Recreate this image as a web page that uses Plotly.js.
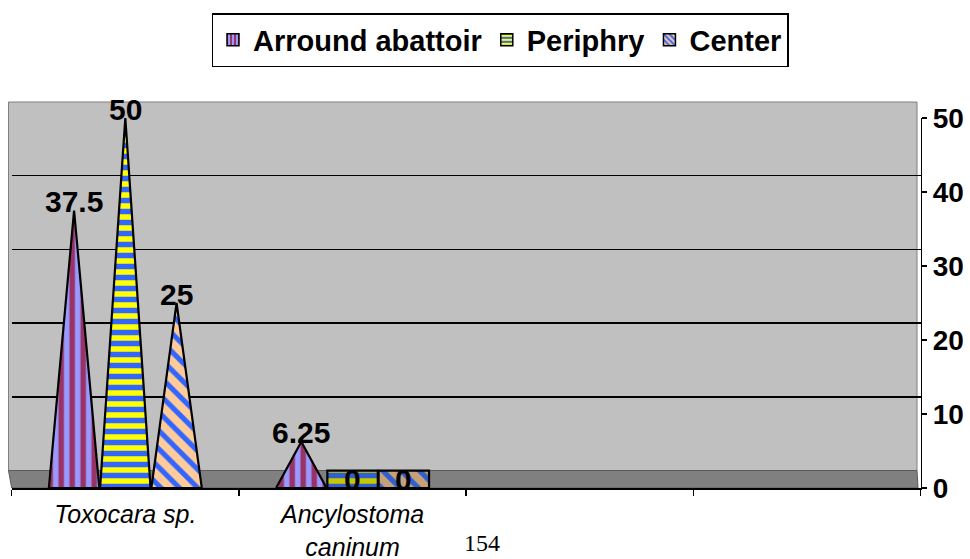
<!DOCTYPE html>
<html>
<head>
<meta charset="utf-8">
<script src="https://cdn.plot.ly/plotly-3.0.1.min.js"></script>
<style>
  html, body { margin: 0; padding: 0; background: #ffffff; }
  #chart { width: 970px; height: 559px; }
</style>
</head>
<body>
<div id="chart"></div>
<script>
// ---------------- data ----------------
const categories = ['Toxocara sp.', 'Ancylostoma caninum', '', ''];
const tickLabels = ['Toxocara sp.', 'Ancylostoma<br>caninum', '', ''];
const seriesNames = ['Arround abattoir', 'Periphry', 'Center'];
const arroundAbattoir = [37.5, 6.25];
const periphry = [50, 0];
const center = [25, 0];
const yTicks = [0, 10, 20, 30, 40, 50];
const gridTicks = [10, 20, 30, 40];
const pageNumber = '154';

// ---------------- styles ----------------
const seriesValues = [arroundAbattoir, periphry, center];
const styles = [
  { shape: '|', bg: '#9999FF', fg: '#993366', size: 11, solidity: 0.5, baseBg: '#8080D8', baseFg: '#7A2850' },
  { shape: '-', bg: '#FFFF00', fg: '#3366FF', size: 11, solidity: 0.5, baseBg: '#C8C800', baseFg: '#3060D0' },
  { shape: '\\', bg: '#FFCC99', fg: '#3366FF', size: 13, solidity: 0.4, baseBg: '#C8A078', baseFg: '#3060D0' }
];
const FONT = 'Liberation Sans, Arial, sans-serif';
const W = 970, H = 559;
const px = v => v / W;
const py = v => 1 - v / H;
const STEP = 0.2255;      // offset between cones (category units)
const CONE_W = 0.222;     // cone base width (category units)
const FLOOR_DEPTH = 2.36; // 3D floor depth expressed in front-axis units

const traces = [];
const annotations = [];

seriesValues.forEach((vals, s) => {
  const st = styles[s];
  const off = (s - 1) * STEP;
  vals.forEach((v, c) => {
    const xc = c + 0.5 + off;
    const l = xc - CONE_W / 2, r = xc + CONE_W / 2;
    let xs, ys, bg, fg;
    if (v > 0) {
      xs = [l, xc, r, l];
      ys = [0, v, 0, 0];
      bg = st.bg; fg = st.fg;
    } else {
      xs = [l, r, r, l, l];
      ys = [0, 0, FLOOR_DEPTH, FLOOR_DEPTH, 0];
      bg = st.baseBg; fg = st.baseFg;
    }
    traces.push({
      type: 'scatter', mode: 'lines', x: xs, y: ys,
      xaxis: 'x', yaxis: 'y2',
      fill: 'toself', fillcolor: bg,
      fillpattern: { shape: st.shape, bgcolor: bg, fgcolor: fg, size: st.size, solidity: st.solidity },
      line: { color: '#000000', width: 2.2 },
      showlegend: false, hoverinfo: 'skip', name: seriesNames[s]
    });
    annotations.push({
      xref: 'x', yref: 'y2', x: xc, y: v, text: String(v),
      showarrow: false, yanchor: 'middle', xanchor: 'center', yshift: 9,
      font: { family: FONT, size: 30, weight: 'bold', color: '#000000' }
    });
  });
});

// legend entries
seriesNames.forEach((name, s) => {
  const st = styles[s];
  traces.push({
    type: 'bar', name: name, x: [null], y: [null], xaxis: 'x', yaxis: 'y2',
    marker: {
      color: st.bg,
      pattern: { shape: st.shape, bgcolor: st.bg, fgcolor: st.fg, size: 5, solidity: 0.5 },
      line: { color: '#000000', width: 1.5 }
    },
    hoverinfo: 'skip'
  });
});

// back-wall helper trace
traces.push({ type: 'scatter', mode: 'markers', x: [null], y: [null], xaxis: 'x', yaxis: 'y', showlegend: false, hoverinfo: 'skip' });

annotations.push({
  xref: 'paper', yref: 'paper', x: px(481.5), y: py(543), text: pageNumber,
  showarrow: false, xanchor: 'center', yanchor: 'middle',
  font: { family: 'Liberation Serif, Times New Roman, serif', size: 24, color: '#000000' }
});

const centers = categories.map((_, i) => i + 0.5);
const bounds = categories.map((_, i) => i).concat([categories.length]);

const layout = {
  width: W, height: H,
  margin: { l: 0, r: 0, t: 0, b: 0, pad: 0 },
  paper_bgcolor: '#ffffff',
  plot_bgcolor: 'rgba(0,0,0,0)',
  showlegend: true,
  legend: {
    orientation: 'h', x: px(500), xanchor: 'center', y: py(13), yanchor: 'top',
    bgcolor: '#ffffff', bordercolor: '#000000', borderwidth: 1.5,
    font: { family: FONT, size: 29, weight: 'bold', color: '#000000' },
    itemwidth: 30, traceorder: 'normal'
  },
  xaxis: {
    domain: [px(11.7), px(920.7)], range: [0, categories.length],
    anchor: 'y2', showgrid: false, zeroline: false,
    showline: true, linecolor: '#000000', linewidth: 2,
    tickmode: 'array', tickvals: centers, ticktext: tickLabels, ticks: '',
    ticklabelstandoff: 3,
    tickfont: { family: FONT, size: 25, style: 'italic', color: '#000000' },
    minor: { tickmode: 'array', tickvals: bounds, ticks: 'outside', ticklen: 6, tickwidth: 1.5, tickcolor: '#000000', showgrid: false },
    fixedrange: true
  },
  yaxis: {
    domain: [1 - 470.5 / H, 1 - 102 / H], range: [0, 50], anchor: 'x',
    showgrid: true, gridcolor: '#000000', gridwidth: 1.5,
    tickmode: 'array', tickvals: gridTicks, showticklabels: false, ticks: '',
    zeroline: false, showline: false, fixedrange: true
  },
  yaxis2: {
    domain: [1 - 488 / H, 1 - 118 / H], range: [0, 50], anchor: 'x', side: 'right',
    showgrid: false, zeroline: false,
    showline: true, linecolor: '#000000', linewidth: 1.5,
    tickmode: 'array', tickvals: yTicks, ticks: 'outside', ticklen: 5, tickwidth: 1.5, tickcolor: '#000000',
    tickfont: { family: FONT, size: 28, weight: 'bold', color: '#000000' },
    fixedrange: true
  },
  shapes: [
    { type: 'rect', xref: 'paper', yref: 'paper', layer: 'below',
      x0: px(8.5), x1: px(917), y0: py(470.5), y1: py(102),
      fillcolor: '#C0C0C0', line: { color: '#808080', width: 1 } },
    { type: 'path', xref: 'paper', yref: 'paper', layer: 'below',
      path: `M ${px(8.5)} ${py(470.5)} L ${px(917)} ${py(470.5)} L ${px(918)} ${py(488)} L ${px(11.7)} ${py(488)} Z`,
      fillcolor: '#808080', line: { color: '#5A5A5A', width: 1 } }
  ],
  annotations: annotations,
  bargap: 0.2
};

Plotly.newPlot('chart', traces, layout, { displayModeBar: false, staticPlot: true });
</script>
</body>
</html>
